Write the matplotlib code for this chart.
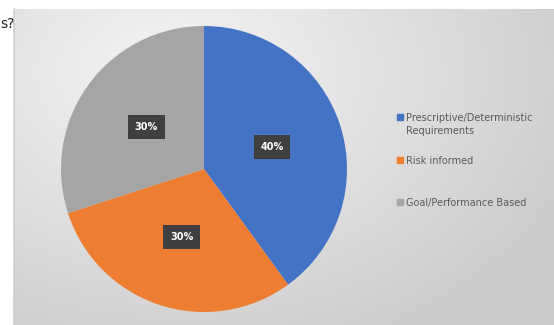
import numpy as np
import matplotlib
matplotlib.use("Agg")
import matplotlib.pyplot as plt

# chart data
categories = ["Prescriptive/Deterministic\nRequirements", "Risk informed", "Goal/Performance Based"]
shares = [40, 30, 30]
colors = ["#4472C4", "#ED7D31", "#A5A5A5"]

W, H = 554, 325
fig = plt.figure(figsize=(W / 100, H / 100), dpi=100)
fig.patch.set_facecolor("white")

# whole-figure axes in pixel units (y up)
ax = fig.add_axes([0, 0, 1, 1])

# gradient panel behind the chart (row 0 = top)
gx, gy = np.meshgrid(np.linspace(0, 1, 200), np.linspace(0, 1, 120))
d = np.sqrt((gx - 0.3) ** 2 + (gy - 0.2) ** 2 * 0.7)
shade = np.clip(0.96 - 0.20 * d, 0.8, 0.96)
ax.imshow(np.dstack([shade] * 3), extent=(14, W, 0, H - 9), origin="upper",
          aspect="auto", zorder=0)
ax.plot([14, 14], [0, H - 9], color="#cfcfcf", lw=1.2, zorder=1)

# pie
cx, cy, r = 204, H - 169, 143
wedges, texts, autotexts = ax.pie(
    shares, colors=colors, startangle=90, counterclock=False,
    center=(cx, cy), radius=r, autopct="%d%%", pctdistance=0.5,
    wedgeprops=dict(linewidth=0), frame=True,
    textprops=dict(color="white", fontsize=7, fontweight="bold"))
ax.set_xlim(0, W)
ax.set_ylim(0, H)
ax.set_aspect("equal")
ax.axis("off")
for t in autotexts:
    t.set_bbox(dict(boxstyle="square,pad=0.7", facecolor="#3f3f3f", edgecolor="none"))

# legend drawn entry by entry, Excel style (marker on the first text line)
leg_x = 400
leg_y = [H - 117, H - 160, H - 202]
for w, lab, y in zip(wedges, categories, leg_y):
    ax.scatter([leg_x], [y], marker="s", s=14, color=w.get_facecolor(), zorder=3)
    ax.text(leg_x + 6, y + 4, lab, fontsize=7, color="#595959", va="top",
            ha="left", linespacing=1.35, zorder=3)

# cut-off question text at the top-left
fig.text(0.0, 1 - 28 / H, "s?", fontsize=10, color="#222222")

fig.savefig("out.png", dpi=100)
